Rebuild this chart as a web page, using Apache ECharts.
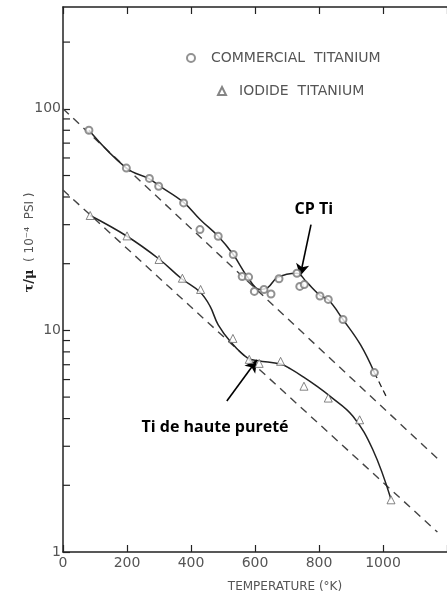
<!DOCTYPE html>
<html>
<head>
<meta charset="utf-8">
<script src="https://cdn.jsdelivr.net/npm/echarts@6/dist/echarts.min.js"></script>
<style>
  html, body { margin: 0; padding: 0; background: #fff; }
  #chart { width: 447px; height: 598px; }
</style>
</head>
<body>
<div id="chart"></div>
<script>
  // measured points, temperature (K) / tau/mu (1e-4 psi)
  var cpPointT = [81, 198, 270, 299, 377, 428, 485, 532, 560, 580, 598, 628, 650, 675, 731, 740, 754, 803, 829, 875, 973];
  var cpPointV = [80, 54, 48.5, 44.7, 37.6, 28.5, 26.6, 22, 17.5, 17.4, 15, 15.3, 14.6, 17.1, 18.1, 15.8, 16.1, 14.3, 13.8, 11.2, 6.45];
  var ioPointT = [85, 200, 300, 373, 430, 531, 582, 613, 680, 753, 829, 927, 1025];
  var ioPointV = [33, 26.7, 20.9, 17.2, 15.3, 9.2, 7.4, 7.1, 7.25, 5.6, 4.95, 3.95, 1.72];

  // drawn curves
  var cpCurveT = [81, 198, 270, 300, 377, 430, 485, 532, 577, 615, 640, 670, 731, 760, 803, 830, 875, 930, 973];
  var cpCurveV = [80, 54, 48.3, 45, 37.8, 31.5, 26.6, 22, 17.4, 15.3, 15.6, 17.3, 18.1, 16.6, 14.4, 13.7, 11.2, 8.6, 6.45];
  var cpExtT = [973, 1014];
  var cpExtV = [6.45, 4.9];
  var ioCurveT = [85, 200, 300, 371, 428, 459, 485, 526, 577, 610, 680, 711, 752, 793, 834, 906, 968, 1025];
  var ioCurveV = [33, 26.6, 21, 17.1, 14.9, 12.9, 10.6, 8.8, 7.5, 7.3, 7.05, 6.7, 6.15, 5.6, 5.05, 4.1, 2.9, 1.73];

  // straight dashed reference lines
  var cpLineT = [0, 1175];
  var cpLineV = [100, 2.6];
  var ioLineT = [0, 1170];
  var ioLineV = [43, 1.23];

  // axis ticks
  var xTicks = [0, 200, 400, 600, 800, 1000, 1200];
  var xLabels = [0, 200, 400, 600, 800, 1000];
  var yMinorTicks = [2, 3, 4, 5, 6, 7, 8, 9, 20, 30, 40, 50, 60, 70, 80, 90, 200];

  // annotations
  var cpArrow = [[775, 30], [741, 17.6]];
  var ioArrow = [[512, 4.8], [606, 7.35]];
  var cpNote = [784, 35];
  var ioNote = [475, 3.66];

  function pairs(xs, ys) {
    return xs.map(function (x, i) { return [x, ys[i]]; });
  }

  var ink = '#222';
  var grey = '#555';
  var labelFont = 'DejaVu Sans';
  var chart = echarts.init(document.getElementById('chart'));

  var option = {
    animation: false,
    backgroundColor: '#fff',
    grid: { left: 63, top: 7, width: 389, height: 546 },
    legend: [
      {
        left: 181, top: 46, itemWidth: 8, itemHeight: 8,
        data: ['COMMERCIAL  TITANIUM'],
        textStyle: { fontFamily: labelFont, fontSize: 14, color: grey, padding: [0, 0, 0, 11] }
      },
      {
        left: 212, top: 79, itemWidth: 8, itemHeight: 8,
        data: ['IODIDE  TITANIUM'],
        textStyle: { fontFamily: labelFont, fontSize: 14, color: grey, padding: [0, 0, 0, 8] }
      }
    ],
    xAxis: [
      {
        type: 'value', min: 0, max: 1200, interval: 200,
        name: 'TEMPERATURE (°K)', nameLocation: 'middle', nameGap: 29, nameMoveOverlap: false,
        nameTextStyle: { fontFamily: labelFont, fontSize: 12, color: grey, padding: [0, 0, 0, 60] },
        axisLine: { lineStyle: { color: ink, width: 1.5 } },
        axisTick: { inside: true, length: 7, customValues: xTicks, lineStyle: { color: ink, width: 1.2 } },
        axisLabel: {
          customValues: xLabels, fontFamily: labelFont, fontSize: 14, color: grey, margin: 4,
          formatter: function (v) { return String(v); }
        },
        splitLine: { show: false }
      },
      {
        type: 'value', min: 0, max: 1200, interval: 200, position: 'top',
        axisLine: { show: true, lineStyle: { color: ink, width: 1.5 } },
        axisTick: { show: true, inside: true, length: 7, lineStyle: { color: ink, width: 1.2 } },
        axisLabel: { show: false },
        splitLine: { show: false }
      }
    ],
    yAxis: {
      type: 'log', logBase: 10, min: 1, max: 288,
      name: '{f|τ/μ}  ( 10⁻⁴  PSI )', nameLocation: 'middle', nameRotate: 90, nameGap: 27,
      nameMoveOverlap: false,
      nameTextStyle: {
        fontFamily: labelFont, fontSize: 12, color: grey, padding: [0, 0, 0, 74],
        rich: { f: { fontFamily: 'DejaVu Serif', fontWeight: 'bold', fontSize: 13, color: ink } }
      },
      axisLine: { show: true, lineStyle: { color: ink, width: 1.5 } },
      axisTick: { show: true, inside: true, length: 7, lineStyle: { color: ink, width: 1.2 } },
      axisLabel: { fontFamily: labelFont, fontSize: 14, color: grey, margin: 2, showMaxLabel: false },
      splitLine: { show: false }
    },
    series: [
      {
        name: 'COMMERCIAL  TITANIUM', type: 'scatter', symbol: 'emptyCircle', symbolSize: 7, z: 5,
        itemStyle: { color: '#777', borderWidth: 1 },
        data: pairs(cpPointT, cpPointV)
      },
      {
        name: 'IODIDE  TITANIUM', type: 'scatter', symbol: 'triangle', symbolSize: 8, z: 5,
        itemStyle: { color: '#fff', borderColor: '#666', borderWidth: 1 },
        data: pairs(ioPointT, ioPointV)
      },
      {
        type: 'line', smooth: 0.4, showSymbol: false, z: 4,
        lineStyle: { color: ink, width: 1.5 },
        data: pairs(cpCurveT, cpCurveV)
      },
      {
        type: 'line', showSymbol: false, z: 4,
        lineStyle: { color: ink, width: 1.3, type: [6, 4] },
        data: pairs(cpExtT, cpExtV)
      },
      {
        type: 'line', smooth: 0.4, showSymbol: false, z: 4,
        lineStyle: { color: ink, width: 1.5 },
        data: pairs(ioCurveT, ioCurveV)
      },
      {
        type: 'line', showSymbol: false, z: 3,
        lineStyle: { color: '#444', width: 1.4, type: [8, 6] },
        data: pairs(cpLineT, cpLineV)
      },
      {
        type: 'line', showSymbol: false, z: 3,
        lineStyle: { color: '#444', width: 1.4, type: [8, 6] },
        data: pairs(ioLineT, ioLineV)
      },
      {
        // minor log ticks on the left axis, y placed through the log scale
        type: 'custom', clip: false, z: 6, silent: true,
        data: yMinorTicks.map(function (v) { return [600, v]; }),
        renderItem: function (params, api) {
          var y = api.coord([api.value(0), api.value(1)])[1];
          var x0 = params.coordSys.x;
          return {
            type: 'line',
            shape: { x1: x0, y1: y, x2: x0 + 7, y2: y },
            style: { stroke: ink, lineWidth: 1.2 }
          };
        }
      },
      {
        type: 'scatter', symbolSize: 0, z: 6, silent: true,
        data: [],
        markLine: {
          silent: true, symbol: ['none', 'arrow'], symbolSize: [10, 12],
          label: { show: false },
          lineStyle: { color: '#000', width: 1.6, type: 'solid' },
          data: [
            [{ coord: cpArrow[0] }, { coord: cpArrow[1] }],
            [{ coord: ioArrow[0] }, { coord: ioArrow[1] }]
          ]
        },
        markPoint: {
          silent: true, symbol: 'circle', symbolSize: 0,
          label: {
            show: true, position: 'inside', fontFamily: 'Open Sans', fontWeight: 'bold',
            fontSize: 16, color: '#000', formatter: '{b}'
          },
          data: [
            { name: 'CP Ti', coord: cpNote },
            { name: 'Ti de haute pureté', coord: ioNote }
          ]
        }
      }
    ]
  };

  chart.setOption(option);
</script>
</body>
</html>
